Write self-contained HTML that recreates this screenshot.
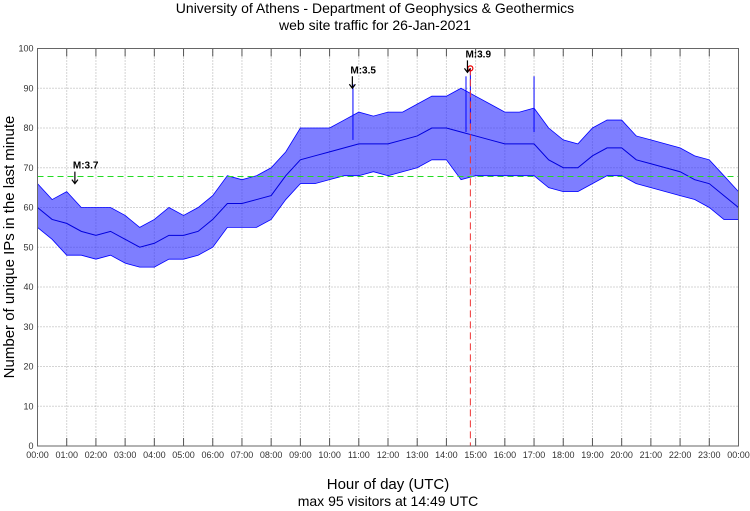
<!DOCTYPE html>
<html><head><meta charset="utf-8"><style>
body{margin:0;background:#fff;}
svg{display:block;font-family:"Liberation Sans",sans-serif;}
</style></head><body>
<svg id="chart" width="750" height="511" viewBox="0 0 750 511">
<text x="375" y="13" text-anchor="middle" font-size="14">University of Athens - Department of Geophysics &amp; Geothermics</text>
<text x="375" y="30" text-anchor="middle" font-size="14">web site traffic for 26-Jan-2021</text>
<text transform="translate(14,247) rotate(-90)" text-anchor="middle" font-size="15">Number of unique IPs in the last minute</text>
<text x="388" y="489" text-anchor="middle" font-size="15">Hour of day (UTC)</text>
<text x="388" y="506" text-anchor="middle" font-size="14">max 95 visitors at 14:49 UTC</text>
<g id="grid"></g><g id="series"></g><g id="overlay"></g>
</svg>
<script>
const hoursHalf = [0,0.5,1,1.5,2,2.5,3,3.5,4,4.5,5,5.5,6,6.5,7,7.5,8,8.5,9,9.5,10,10.5,11,11.5,12,12.5,13,13.5,14,14.5,15,15.5,16,16.5,17,17.5,18,18.5,19,19.5,20,20.5,21,21.5,22,22.5,23,23.5,24];
const midValues = [60,57,56,54,53,54,52,50,51,53,53,54,57,61,61,62,63,68,72,73,74,75,76,76,76,77,78,80,80,79,78,77,76,76,76,72,70,70,73,75,75,72,71,70,69,67,66,63,60];
const lowValues = [55,52,48,48,47,48,46,45,45,47,47,48,50,55,55,55,57,62,66,66,67,68,68,69,68,69,70,72,72,67,68,68,68,68,68,65,64,64,66,68,68,66,65,64,63,62,60,57,57];
const highValues = [66,62,64,60,60,60,58,55,57,60,58,60,63,68,67,68,70,74,80,80,80,82,84,83,84,84,86,88,88,90,88,86,84,84,85,80,77,76,80,82,82,78,77,76,75,73,72,68,64];
const spikeHours = [10.8,14.67,14.82,17.0];
const spikeValues = [91,93,95,93];
const yTicks = [0,10,20,30,40,50,60,70,80,90,100];
const xTickLabels = ["00:00","01:00","02:00","03:00","04:00","05:00","06:00","07:00","08:00","09:00","10:00","11:00","12:00","13:00","14:00","15:00","16:00","17:00","18:00","19:00","20:00","21:00","22:00","23:00","00:00"];
const quakeHours = [1.28,10.78,14.72];
const quakeLabels = ["M:3.7","M:3.5","M:3.9"];
const quakeValues = [66,90,94];
const meanLevel = 67.8;
const maxHour = 14.82, maxValue = 95;

const L=37.5,R=738.5,T=48.5,B=446;
const X=h=>L+(R-L)*h/24, Y=v=>B-(B-T)*v/100;
const NS="http://www.w3.org/2000/svg";
function mk(tag,attrs,parent){const e=document.createElementNS(NS,tag);for(const k in attrs)e.setAttribute(k,attrs[k]);parent.appendChild(e);return e;}
const grid=document.getElementById('grid'),series=document.getElementById('series'),ov=document.getElementById('overlay');
yTicks.forEach(v=>{
  if(v>0&&v<100){const l=mk('line',{x1:L,x2:R,y1:Y(v),y2:Y(v),stroke:'#aaa','stroke-dasharray':'1,2','stroke-width':1},grid);
  }
  const t=mk('text',{x:L-4,y:Y(v)+3,'text-anchor':'end','font-size':9,fill:'#333'},grid);t.textContent=v;
  
});
xTickLabels.forEach((s,i)=>{
  const x=X(i);
  if(i>0&&i<24){const l=mk('line',{x1:x,x2:x,y1:T,y2:B,stroke:'#aaa','stroke-dasharray':'1,2','stroke-width':1},grid);
  
  mk('line',{x1:x,x2:x,y1:T,y2:T+8,stroke:'#555'},grid);mk('line',{x1:x,x2:x,y1:B,y2:B-8,stroke:'#555'},grid);}
  const t=mk('text',{x:x,y:B+12,'text-anchor':'middle','font-size':9,fill:'#333'},grid);t.textContent=s;
  
});
let pts=hoursHalf.map((h,i)=>X(h)+','+Y(highValues[i])).join(' ')+' '+hoursHalf.slice().reverse().map((h,j)=>{const i=hoursHalf.length-1-j;return X(h)+','+Y(lowValues[i]);}).join(' ');
const band=mk('polygon',{points:pts,fill:'#2828ff','fill-opacity':0.6,stroke:'#0000ff','stroke-width':0.8},series);

const line=mk('polyline',{points:hoursHalf.map((h,i)=>X(h)+','+Y(midValues[i])).join(' '),fill:'none',stroke:'#0000dd','stroke-width':1},series);

spikeHours.forEach((h,i)=>{
  const s=mk('line',{x1:X(h),x2:X(h),y1:Y(spikeValues[i]),y2:Y(spikeValues[i]-14),stroke:'#0000ff','stroke-width':1},series);
  
});
const ml=mk('line',{x1:L,x2:R,y1:Y(meanLevel),y2:Y(meanLevel),stroke:'#22dd22','stroke-dasharray':'6,4','stroke-width':1},ov);

const vl=mk('line',{x1:X(maxHour),x2:X(maxHour),y1:Y(maxValue),y2:B,stroke:'#ee3333','stroke-dasharray':'7,4','stroke-width':1},ov);

const c=mk('circle',{cx:X(maxHour),cy:Y(maxValue),r:2.5,fill:'none',stroke:'#ee0000','stroke-width':1.2},ov);

quakeHours.forEach((h,i)=>{
  const x=X(h),y=Y(quakeValues[i]);
  const a=mk('path',{d:`M${x},${y-12}L${x},${y} M${x-3},${y-4}L${x},${y}L${x+3},${y-4}`,stroke:'#000',fill:'none','stroke-width':1.2},ov);
  
  const t=mk('text',{x:x-2,y:y-15,'font-size':10,'font-weight':'bold'},ov);t.textContent=quakeLabels[i];
  
});
const fr=mk('rect',{x:L,y:T,width:R-L,height:B-T,fill:'none',stroke:'#666','stroke-width':1},ov);

</script>
</body></html>
